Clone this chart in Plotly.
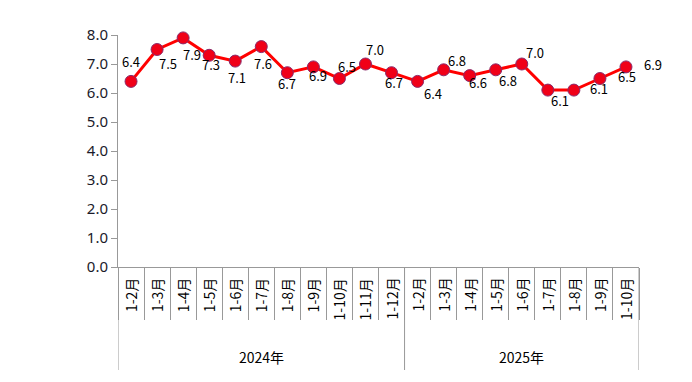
import plotly.graph_objects as go

years = ["2024年", "2025年"]
months_2024 = ["1-2月", "1-3月", "1-4月", "1-5月", "1-6月", "1-7月", "1-8月",
               "1-9月", "1-10月", "1-11月", "1-12月"]
months_2025 = ["1-2月", "1-3月", "1-4月", "1-5月", "1-6月", "1-7月", "1-8月",
               "1-9月", "1-10月"]
values_2024 = [6.4, 7.5, 7.9, 7.3, 7.1, 7.6, 6.7, 6.9, 6.5, 7.0, 6.7]
values_2025 = [6.4, 6.8, 6.6, 6.8, 7.0, 6.1, 6.1, 6.5, 6.9]
y_ticks = [0, 1, 2, 3, 4, 5, 6, 7, 8]

# label offsets in pixels (dx, dy; dy positive = up)
label_offsets = [(0, 20), (11, -14), (9, -17), (2, -9), (2, -16), (2, -17), (0, -11),
                 (5, -9), (8, 12), (10, 15), (2, -10),
                 (15, -12), (13, 9), (8, -7), (12, -11), (13, 12), (12, -10),
                 (25, 2), (27, 2), (27, 2)]

months = months_2024 + months_2025
values = values_2024 + values_2025
xs = list(range(len(months)))
n24 = len(months_2024)

fig = go.Figure()
fig.add_trace(go.Scatter(
    x=xs, y=values, mode="lines+markers",
    line=dict(color="#FF0000", width=3),
    marker=dict(size=12, color="#F00018", line=dict(color="#8A2A6A", width=1)),
    cliponaxis=False, hoverinfo="skip", showlegend=False,
))

annotations = []
for i, (x, v) in enumerate(zip(xs, values)):
    dx, dy = label_offsets[i]
    annotations.append(dict(
        x=x, y=v, xref="x", yref="y", text=f"{v:.1f}", showarrow=False,
        xshift=dx, yshift=dy, font=dict(family="Noto Sans CJK SC", size=13, color="#000000"),
    ))
for x, m in zip(xs, months):
    annotations.append(dict(
        x=x, y=0, xref="x", yref="y", text=m, showarrow=False, textangle=-90,
        yanchor="top", xanchor="center", yshift=-9,
        font=dict(family="Noto Sans CJK SC", size=14, color="#000000"),
    ))
group_centers = [(n24 - 1) / 2, n24 + (len(months_2025) - 1) / 2]
for yr, c in zip(years, group_centers):
    annotations.append(dict(
        x=c, y=0, xref="x", yref="y", text=yr, showarrow=False,
        yanchor="middle", yshift=-90,
        font=dict(family="Noto Sans CJK SC", size=14, color="#000000"),
    ))

shapes = []
for b in [-0.5, n24 - 0.5, len(months) - 0.5]:
    shapes.append(dict(type="line", xref="x", yref="paper", x0=b, x1=b,
                       y0=0, y1=-103 / 232, line=dict(color="#999999", width=1)))

fig.update_layout(
    width=684, height=374,
    margin=dict(l=110, r=53, t=27, b=115),
    paper_bgcolor="white", plot_bgcolor="white",
    annotations=annotations, shapes=shapes,
    xaxis=dict(range=[-0.5, len(months) - 0.5], showgrid=False, zeroline=False,
               showline=True, linecolor="#999999", linewidth=1,
               tickmode="array", tickvals=[i - 0.5 for i in range(len(months) + 1)],
               ticktext=[""] * (len(months) + 1),
               ticks="outside", ticklen=52, tickcolor="#999999", tickwidth=1),
    yaxis=dict(range=[0, 8], tickvals=y_ticks, ticktext=[f"{t:.1f}" for t in y_ticks],
               showgrid=False, zeroline=False, showline=True, linecolor="#999999",
               linewidth=1, ticks="outside", ticklen=6, tickcolor="#999999",
               tickfont=dict(family="Noto Sans", size=15, color="#1a1a2a")),
)

fig.write_html("out.html")
